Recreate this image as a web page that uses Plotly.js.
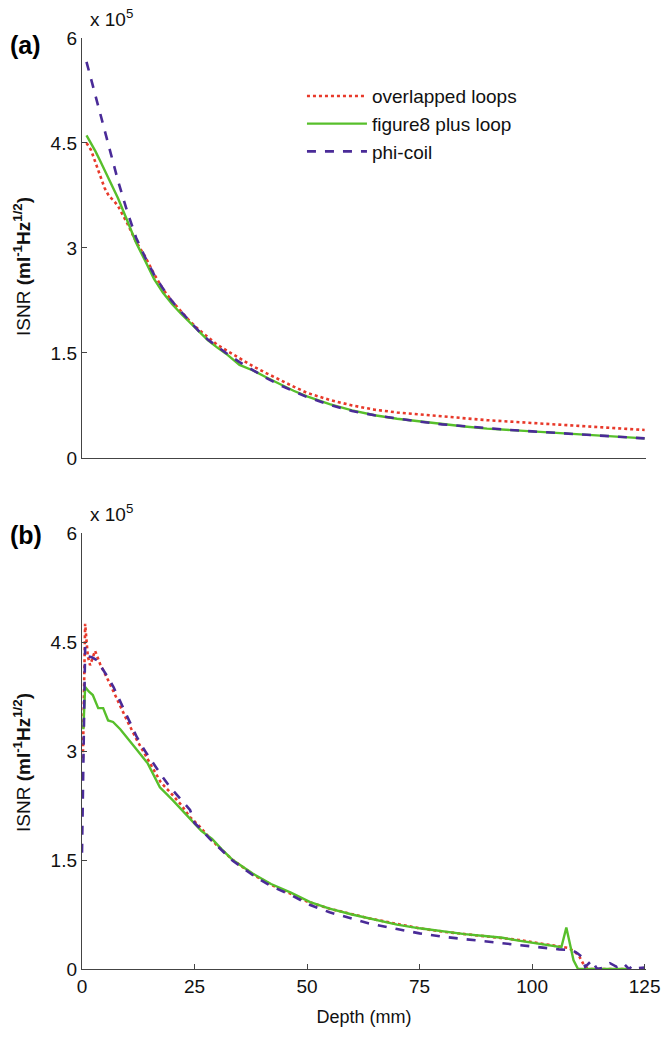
<!DOCTYPE html>
<html>
<head>
<meta charset="utf-8">
<script src="https://cdn.plot.ly/plotly-3.0.1.min.js"></script>
<style>html,body{margin:0;padding:0;background:#fff;}#chart{width:661px;height:1041px;}</style>
</head>
<body>
<div id="chart"></div>
<script>
// Panel (a): ISNR in units of 1e5
const depthA = [1,2,3,4,5,6,7,8,10,12,14,16,18,20,22,24,26,28,30,32,35,38,41,44,47,50,55,60,65,70,75,80,85,90,95,100,105,110,115,120,125];
const overlapA = [4.5,4.4,4.22,4.05,3.86,3.74,3.68,3.6,3.36,3.09,2.88,2.63,2.41,2.24,2.09,1.95,1.83,1.72,1.62,1.54,1.42,1.31,1.21,1.11,1.02,0.93,0.83,0.75,0.69,0.65,0.62,0.59,0.56,0.54,0.52,0.5,0.48,0.46,0.44,0.42,0.4];
const fig8A = [4.61,4.5,4.38,4.25,4.12,3.98,3.85,3.71,3.4,3.08,2.82,2.56,2.36,2.2,2.06,1.93,1.8,1.68,1.58,1.49,1.33,1.25,1.15,1.05,0.96,0.88,0.77,0.68,0.61,0.56,0.52,0.48,0.45,0.42,0.4,0.38,0.36,0.34,0.32,0.3,0.28];
const phiA = [5.66,5.42,5.18,4.93,4.68,4.44,4.2,3.96,3.53,3.15,2.87,2.62,2.42,2.24,2.09,1.95,1.81,1.69,1.59,1.5,1.37,1.25,1.14,1.04,0.95,0.87,0.76,0.67,0.61,0.56,0.52,0.48,0.45,0.42,0.4,0.38,0.36,0.34,0.32,0.3,0.28];

// Panel (b)
const overlapB_depth = [0.2,0.7,1.3,1.8,2.9,4,6,8.4,10,12.2,14,15.8,17.5,19.6,22,24,26,28.4,30,33.5,38,42,46.4,50,55,60,63.6,70,75,80.7,85,90,93.4,97,100,103,106,108,109.5,110.5,111.3,112,113,122];
const overlapB = [2.9,4.75,4.3,4.18,4.38,4.2,3.95,3.63,3.42,3.15,2.95,2.74,2.57,2.43,2.26,2.09,1.97,1.8,1.7,1.5,1.3,1.16,1.03,0.93,0.83,0.75,0.7,0.62,0.56,0.51,0.48,0.45,0.43,0.4,0.37,0.34,0.31,0.29,0.24,0.17,0.08,0.02,0,0];
const fig8B_depth = [0.3,0.7,1.5,2.4,3.6,4.7,5.8,6.9,8.5,10,12,14.6,16,17.3,20.2,22,23.6,24.7,26.5,28.9,31,33.5,38,42,46.4,50.7,55,60,63.6,70,75,80.7,85,90,93.4,97,100,103,106.5,107.6,109.2,110.2,121.5];
const fig8B = [3.3,3.88,3.82,3.77,3.59,3.59,3.42,3.4,3.3,3.19,3.03,2.83,2.66,2.5,2.32,2.2,2.08,2.01,1.9,1.79,1.65,1.5,1.31,1.17,1.05,0.92,0.83,0.75,0.7,0.61,0.56,0.51,0.48,0.45,0.43,0.39,0.36,0.33,0.3,0.57,0.12,0,0];
const phiB_depth = [0,0.7,1.4,2.2,3.3,4.4,5.5,7,8.4,10.3,12.2,14,15.8,17.7,19.6,22,24,25,26.5,28.4,31,33.5,38,42,46.4,50.7,55,60,63.6,70,75,80.7,85,90,93.4,97,100,103,106,108.9,110,111,111.8,113.3,114.4,116,117.3,118.8,120.3,121.5,122.4,123.5,125];
const phiB = [1.6,4.43,4.3,4.29,4.25,4.15,4.04,3.88,3.7,3.45,3.19,3.0,2.83,2.66,2.5,2.33,2.19,2.01,1.92,1.79,1.63,1.49,1.29,1.14,1.02,0.88,0.78,0.69,0.63,0.55,0.49,0.44,0.41,0.38,0.36,0.33,0.31,0.29,0.27,0.26,0.22,0.17,0.03,0.12,0,0.02,0.08,0.03,0.08,0,0.05,0.01,0.02];

const seriesNames = ['overlapped loops','figure8 plus loop','phi-coil'];
const yTickVals = [0,1.5,3,4.5,6];
const yTickText = ['0','1.5','3','4.5','6'];
const xTickVals = [0,25,50,75,100,125];

const RED = '#e8392a', GREEN = '#57bf2b', PURPLE = '#4a2b98';
const FONT = 'Liberation Sans, Arial, Helvetica, sans-serif';

const styles = [
  {color: RED, dash: 'dot', width: 2.6},
  {color: GREEN, dash: 'solid', width: 2.4},
  {color: PURPLE, dash: 'dash', width: 2.6}
];

const traces = [
  {x: depthA, y: overlapA, name: seriesNames[0], xaxis: 'x2', yaxis: 'y2', mode: 'lines', line: styles[0]},
  {x: depthA, y: fig8A, name: seriesNames[1], xaxis: 'x2', yaxis: 'y2', mode: 'lines', line: styles[1]},
  {x: depthA, y: phiA, name: seriesNames[2], xaxis: 'x2', yaxis: 'y2', mode: 'lines', line: styles[2]},
  {x: overlapB_depth, y: overlapB, name: seriesNames[0], xaxis: 'x', yaxis: 'y', mode: 'lines', line: styles[0], showlegend: false},
  {x: fig8B_depth, y: fig8B, name: seriesNames[1], xaxis: 'x', yaxis: 'y', mode: 'lines', line: styles[1], showlegend: false},
  {x: phiB_depth, y: phiB, name: seriesNames[2], xaxis: 'x', yaxis: 'y', mode: 'lines', line: styles[2], showlegend: false}
];

const yCommon = {
  range: [0, 6], tickvals: yTickVals, ticktext: yTickText,
  ticks: 'inside', ticklen: 5, tickcolor: '#444', showline: true, linecolor: '#444', linewidth: 1.2,
  showgrid: false, zeroline: false, tickfont: {family: FONT, size: 19, color: '#111'}, fixedrange: true
};

const layout = {
  width: 661, height: 1041,
  margin: {l: 82, r: 15, t: 38, b: 72},
  paper_bgcolor: '#fff', plot_bgcolor: '#fff',
  font: {family: FONT, color: '#111'},
  showlegend: true,
  legend: {x: 0.39, y: 0.958, xanchor: 'left', yanchor: 'top', bgcolor: 'rgba(0,0,0,0)',
           font: {family: FONT, size: 19, color: '#111'}, itemwidth: 60, tracegroupgap: 0},
  xaxis: {domain: [0, 1], anchor: 'y', range: [0, 125.3], tickvals: xTickVals,
          ticks: 'inside', ticklen: 5, tickcolor: '#444', showline: true, linecolor: '#444', linewidth: 1.2,
          showgrid: false, zeroline: false, tickfont: {family: FONT, size: 19, color: '#111'},
          title: {text: 'Depth (mm)', font: {family: FONT, size: 18, color: '#111'}, standoff: 14}},
  xaxis2: {domain: [0, 1], anchor: 'y2', range: [0, 125.3], showticklabels: false, ticks: '',
           showline: true, linecolor: '#444', linewidth: 1.2, showgrid: false, zeroline: false},
  yaxis: Object.assign({}, yCommon, {domain: [0, 0.4683], anchor: 'x'}),
  yaxis2: Object.assign({}, yCommon, {domain: [0.5489, 1], anchor: 'x2'}),
  annotations: [
    {text: '<b>(a)</b>', xref: 'paper', yref: 'paper', x: -0.1, y: 0.9925, xanchor: 'center', yanchor: 'middle', showarrow: false, font: {family: FONT, size: 25, color: '#000'}},
    {text: '<b>(b)</b>', xref: 'paper', yref: 'paper', x: -0.1, y: 0.4662, xanchor: 'center', yanchor: 'middle', showarrow: false, font: {family: FONT, size: 25, color: '#000'}},
    {text: 'x 10<sup>5</sup>', xref: 'paper', yref: 'paper', x: 0.0106, y: 1.006, xanchor: 'left', yanchor: 'bottom', showarrow: false, font: {family: FONT, size: 19, color: '#111'}},
    {text: 'x 10<sup>5</sup>', xref: 'paper', yref: 'paper', x: 0.0106, y: 0.4745, xanchor: 'left', yanchor: 'bottom', showarrow: false, font: {family: FONT, size: 19, color: '#111'}},
    {text: 'ISNR <b>(ml<sup>-1</sup>Hz<sup>1/2</sup>)</b>', xref: 'paper', yref: 'paper', x: -0.1064, y: 0.7551, xanchor: 'center', yanchor: 'middle', textangle: -90, showarrow: false, font: {family: FONT, size: 19, color: '#111'}},
    {text: 'ISNR <b>(ml<sup>-1</sup>Hz<sup>1/2</sup>)</b>', xref: 'paper', yref: 'paper', x: -0.1064, y: 0.2223, xanchor: 'center', yanchor: 'middle', textangle: -90, showarrow: false, font: {family: FONT, size: 19, color: '#111'}}
  ]
};

Plotly.newPlot('chart', traces, layout, {staticPlot: true, displayModeBar: false});
</script>
</body>
</html>
